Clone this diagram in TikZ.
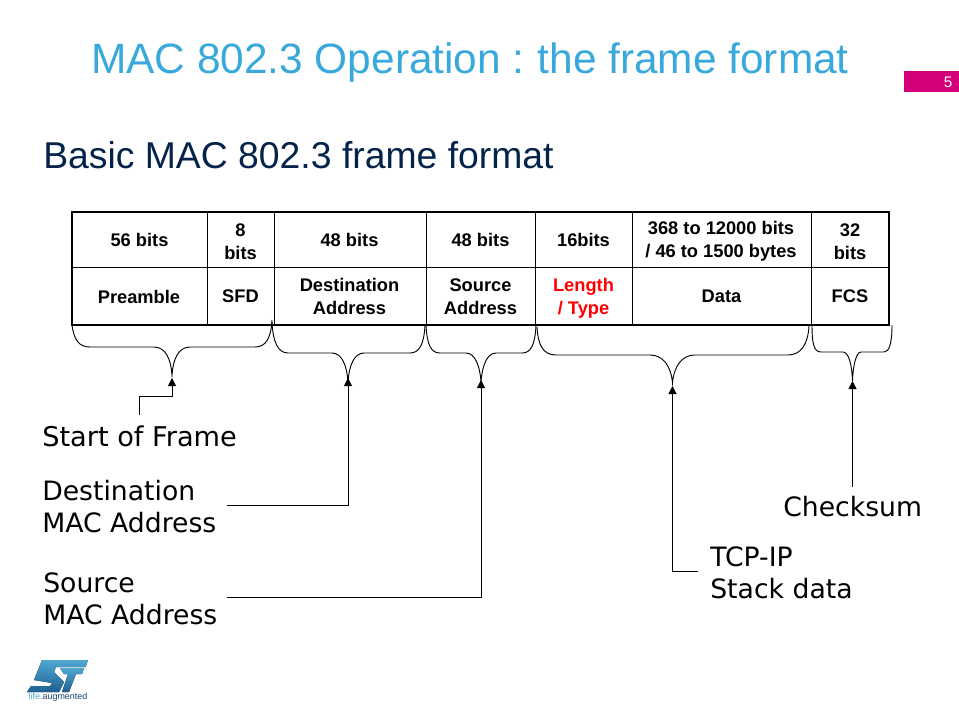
\documentclass[tikz,border=0pt]{standalone}
\usepackage{fontspec}
\setmainfont{Liberation Sans}
\newfontfamily\dejavu{DejaVu Sans}
\usetikzlibrary{arrows.meta,calc}
\definecolor{titleblue}{HTML}{39A9DC}
\definecolor{navy}{HTML}{03234B}
\definecolor{stpink}{HTML}{D4007A}
\definecolor{stdark}{HTML}{1F5F92}
\definecolor{stlight}{HTML}{4FA8D2}
\tikzset{
  x=0.75pt,y=-0.75pt,
  cell/.style={inner sep=0pt,align=center,font=\bfseries\fontsize{13.7}{17.2}\selectfont,text=black,anchor=center},
  callout/.style={inner sep=0pt,anchor=north west,align=left,font=\dejavu\fontsize{20}{24}\selectfont,text=black},
  leader/.style={draw=black,line width=0.75pt,-{Triangle[length=6pt,width=6pt]}},
  curly/.style={draw=black,line width=0.7pt},
  frameline/.style={draw=black,line width=1.6pt},
  divider/.style={draw=black,line width=0.7pt},
}
\begin{document}
\begin{tikzpicture}
\useasboundingbox (0,0) rectangle (959,720);
\node[anchor=center,inner sep=0pt,text=titleblue,font=\fontsize{31.8}{36}\selectfont] (title) at (470,63) {MAC 802.3 Operation :\kern-2pt{} the frame format};
\node[anchor=west,inner sep=0pt,text=navy,font=\fontsize{28}{32}\selectfont] (subtitle) at (43,155) {Basic MAC 802.3 frame format};
\fill[stpink] (904,71) rectangle (959,92);
\node[anchor=center,inner sep=0pt,text=white,font=\fontsize{11.5}{13}\selectfont] (page) at (948,82) {5};

% table
\coordinate (tl) at (72,212); \coordinate (br) at (889,325);
\draw[divider] (72,267) -- (889,267);
\foreach \x in {207,274,426,535,632,811} \draw[divider] (\x,212) -- (\x,325);
\draw[frameline] (tl) rectangle (br);
\node[cell] (a1) at (139.5,240) {56 bits};
\node[cell] (a2) at (240.5,241.5) {8\\bits};
\node[cell] (a3) at (349.5,240) {48 bits};
\node[cell] (a4) at (480.5,240) {48 bits};
\node[cell] (a5) at (583.5,240) {16bits};
\node[cell] (a6) at (721,241.5) {368 to 12000 bits\\/ 46 to 1500 bytes};
\node[cell] (a7) at (850,241.5) {32\\bits};
\node[cell] (b1) at (139,296.5) {Preamble};
\node[cell] (b2) at (240.5,296.5) {SFD};
\node[cell] (b3) at (349.5,296.5) {Destination\\Address};
\node[cell] (b4) at (480.5,296.5) {Source\\Address};
\node[cell,text=red] (b5) at (583.5,298.5) {Length\\/ Type};
\node[cell] (b6) at (721.5,296.5) {Data};
\node[cell] (b7) at (850,296.5) {FCS};

% braces
\coordinate (t1) at (172,375);
\coordinate (t2) at (348,382);
\coordinate (t3) at (481,382);
\coordinate (t4) at (672.5,383);
\coordinate (t5) at (852.5,381);
\draw[curly] (72,325) .. controls (74,340) and (79,347) .. (90,347) -- (154,347)
  .. controls (166,347) and (171,360) .. (t1) .. controls (173,360) and (178,347) .. (190,347)
  -- (255,347) .. controls (266,347) and (271,338) .. (272,320);
\draw[curly] (272,322) .. controls (273,344) and (279,353) .. (288,353) -- (332,353)
  .. controls (342,353) and (347,366) .. (t2) .. controls (349,366) and (354,353) .. (364,353)
  -- (410,353) .. controls (419,353) and (424,345) .. (425,325);
\draw[curly] (426,325) .. controls (427,345) and (431,353) .. (440,353) -- (466,353)
  .. controls (475,353) and (480,366) .. (t3) .. controls (482,366) and (487,353) .. (496,353)
  -- (522,353) .. controls (531,353) and (535,345) .. (536,325);
\draw[curly] (537,327) .. controls (538,345) and (543,355) .. (556,355) -- (650,355)
  .. controls (663,355) and (671,366) .. (t4) .. controls (674,366) and (682,355) .. (695,355)
  -- (788,355) .. controls (801,355) and (808,344) .. (809,326);
\draw[curly] (812,325) .. controls (812,344) and (814,352) .. (821,352) -- (843,352)
  .. controls (849,352) and (852,366) .. (t5) .. controls (853,366) and (856,352) .. (861,352)
  -- (884,352) .. controls (889,352) and (892,344) .. (892,325);

% labels
\node[callout,font=\dejavu\fontsize{20.4}{24}\selectfont] (sof) at (42,426) {Start of Frame};
\node[callout] (dst) at (42,480) {Destination\\MAC Address};
\node[callout] (src) at (43,572) {Source\\MAC Address};
\node[callout] (chk) at (783,496) {Checksum};
\node[callout] (tcp) at (710,546) {TCP-IP\\Stack data};

\coordinate (e1) at (172,378);
\coordinate (e2) at (348,378);
\coordinate (e3) at (481,380);
\coordinate (e4) at (672.5,386);
\coordinate (e5) at (852.5,381);
\coordinate (s1) at (139,415);
\coordinate (s2) at (227,505.5);
\coordinate (s3) at (227,597);
\coordinate (s4) at (698,571);
\coordinate (s5) at (852.5,487);
\draw[leader] (s1) |- (172,396) -- (e1);
\draw[leader] (s2) -| (e2);
\draw[leader] (s3) -| (e3);
\draw[leader] (s4) -| (e4);
\draw[leader] (s5) -- (e5);

% logo
\fill[top color=stlight,bottom color=stdark] (42,660) -- (88,660) -- (85.5,667) -- (56,667) -- (54,672) -- (64,682) -- (59,692) -- (27,692) -- (31,686) -- (50,686) -- (52,683) -- (34,680) -- cycle;
\fill[top color=stlight,bottom color=stdark] (60,668) -- (84,668) -- (82,674) -- (76,674) -- (69,692) -- (62,692) -- (68,674) -- (64,674) -- cycle;
\node[anchor=center,inner sep=0pt,text=stdark!70!black,font=\fontsize{6.7}{8}\selectfont] (tag) at (58,697.5) {\textcolor{stlight}{life.}augmented};
\end{tikzpicture}
\end{document}
